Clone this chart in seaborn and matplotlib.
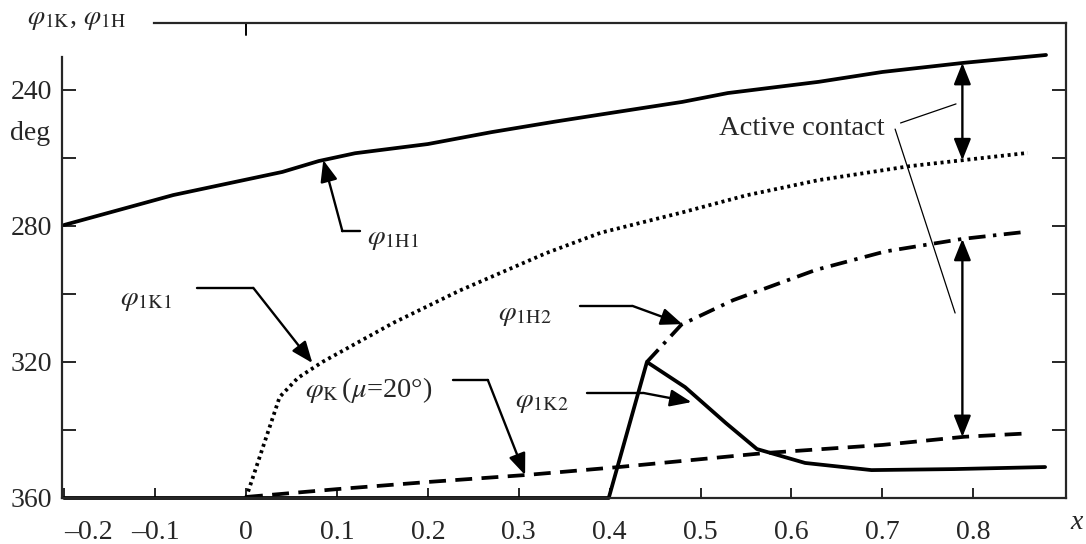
import numpy as np
import matplotlib
matplotlib.use('Agg')
import matplotlib.pyplot as plt
import matplotlib.transforms as mtransforms
import seaborn as sns

# curve data (x, angle in degrees)
h1_x = [-0.2, -0.08, 0.04, 0.08, 0.12, 0.2, 0.27, 0.34, 0.4, 0.48, 0.53, 0.63, 0.7, 0.79, 0.88]
h1_y = [279.7, 270.9, 264.1, 260.9, 258.6, 255.9, 252.4, 249.3, 246.8, 243.5, 240.9, 237.6, 234.7, 232.0, 229.7]

k1_x = [0.0, 0.037, 0.057, 0.084, 0.162, 0.235, 0.33, 0.39, 0.48, 0.55, 0.63, 0.73, 0.79, 0.86]
k1_y = [360, 330.3, 324.7, 320.0, 308.5, 299.0, 288.0, 282.0, 276.0, 271.0, 266.5, 262.4, 260.6, 258.5]

h2_x = [0.441, 0.479, 0.536, 0.627, 0.703, 0.788, 0.855]
h2_y = [320.0, 309.0, 301.8, 292.9, 287.5, 283.8, 281.8]

kmu_x = [0.0, 0.1, 0.2, 0.31, 0.41, 0.57, 0.70, 0.79, 0.86]
kmu_y = [359.7, 357.4, 355.3, 353.2, 350.9, 346.8, 344.4, 342.0, 341.0]

k2_x = [-0.2, 0.399, 0.441, 0.483, 0.528, 0.562, 0.615, 0.688, 0.779, 0.879]
k2_y = [360, 360, 320.0, 327.4, 338.0, 345.6, 349.7, 351.8, 351.5, 350.9]

x_ticks = [-0.2, -0.1, 0, 0.1, 0.2, 0.3, 0.4, 0.5, 0.6, 0.7, 0.8]
x_tick_labels = ['\u20130.2', '\u20130.1', '0', '0.1', '0.2', '0.3', '0.4', '0.5', '0.6', '0.7', '0.8']
y_ticks = [240, 260, 280, 300, 320, 340, 360]
y_tick_labels = ['240', '', '280', '', '320', '', '360']
contact_x = 0.788

sns.set_style('ticks')
plt.rcParams['font.family'] = ['Liberation Serif', 'DejaVu Serif']
plt.rcParams['mathtext.fontset'] = 'stix'

fig = plt.figure(figsize=(10.86, 5.44), dpi=100)
ax = fig.add_axes([0.0571, 0.0846, 0.9245, 0.8731])

lw = 2.7
sns.lineplot(x=h1_x, y=h1_y, ax=ax, color='black', lw=lw, sort=False, clip_on=False)
sns.lineplot(x=k1_x, y=k1_y, ax=ax, color='black', lw=lw, sort=False, linestyle=(0, (0.8, 1.0)), clip_on=False)
sns.lineplot(x=h2_x, y=h2_y, ax=ax, color='black', lw=lw, sort=False, linestyle=(0, (4.5, 2, 0.9, 2)), clip_on=False)
sns.lineplot(x=kmu_x, y=kmu_y, ax=ax, color='black', lw=lw, sort=False, linestyle=(0, (4.5, 2.5)), clip_on=False)
sns.lineplot(x=k2_x, y=k2_y, ax=ax, color='black', lw=lw, sort=False, clip_on=False)

ax.set_xlim(-0.2024, 0.902)
ax.set_ylim(360, 220.3)

# axis frame
for s in ax.spines.values():
    s.set_linewidth(1.6)
ax.spines['left'].set_bounds(230.3, 360)
ax.spines['top'].set_bounds(-0.101, 0.902)

ax.set_xticks(x_ticks)
ax.set_xticklabels(x_tick_labels)
ax.set_yticks(y_ticks)
ax.set_yticklabels(y_tick_labels)
ax.tick_params(axis='x', direction='in', length=7, width=1.4, labelsize=20, pad=16)
ax.tick_params(axis='y', direction='in', length=10, width=1.4, labelsize=20, pad=7,
               right=True)
ax.xaxis.set_ticks_position('bottom')

# x tick labels shift for the first one
lbl = ax.get_xticklabels()[0]
lbl.set_transform(lbl.get_transform() + mtransforms.ScaledTranslation(24 / 100, 0, fig.dpi_scale_trans))

# single top tick at x = 0
ax.plot([0, 0], [220.3, 223.8], color='black', lw=1.4, clip_on=False)

# labels
fs = 20.5
fig.text(0.0249, 0.965, r'$\varphi_{\mathrm{1K}}$, $\varphi_{\mathrm{1H}}$', fontsize=20, va='center')
fig.text(0.0276, 0.7555, 'deg', fontsize=20, ha='center', va='center')
fig.text(0.9917, 0.040, 'x', fontsize=20, style='italic', ha='center', va='center')

arrow = dict(arrowstyle='-|>,head_length=0.65,head_width=0.26', color='black', lw=1.7,
             mutation_scale=20, shrinkA=0, shrinkB=0)
dbl = dict(arrowstyle='<|-|>,head_length=0.65,head_width=0.26', color='black', lw=1.7,
           mutation_scale=20, shrinkA=0, shrinkB=0)


def leader(label, text_pos, bend_from, bend_to, tip):
    ax.text(text_pos[0], text_pos[1], label, fontsize=fs, ha='left', va='center')
    ax.plot([bend_from[0], bend_to[0]], [bend_from[1], bend_to[1]], color='black', lw=1.7)
    ax.annotate('', xy=tip, xytext=bend_to, arrowprops=arrow)


leader(r'$\varphi_{\mathrm{1H1}}$', (0.133, 284.1), (0.125, 281.5), (0.106, 281.5),
       (0.085, np.interp(0.085, h1_x, h1_y)))
leader(r'$\varphi_{\mathrm{1K1}}$', (-0.139, 301.8), (-0.054, 298.2), (0.008, 298.2),
       (0.073, 320.3))
leader(r'$\varphi_{\mathrm{K}}\,$($\mu$=20°)', (0.065, 328.2), (0.228, 325.3), (0.266, 325.3),
       (0.307, np.interp(0.307, kmu_x, kmu_y)))
leader(r'$\varphi_{\mathrm{1H2}}$', (0.277, 306.2), (0.367, 303.5), (0.425, 303.5),
       (0.48, np.interp(0.48, h2_x, h2_y)))
leader(r'$\varphi_{\mathrm{1K2}}$', (0.296, 331.8), (0.375, 329.1), (0.437, 329.1),
       (0.49, 331.8))

# active contact
ax.text(0.52, 251.2, 'Active contact', fontsize=fs, ha='left', va='center')
ax.plot([0.72, 0.781], [249.7, 244.1], color='black', lw=0.9)
ax.plot([0.714, 0.780], [251.5, 305.6], color='black', lw=0.9)
ax.annotate('', xy=(contact_x, np.interp(contact_x, h1_x, h1_y)),
            xytext=(contact_x, np.interp(contact_x, k1_x, k1_y)), arrowprops=dbl)
ax.annotate('', xy=(contact_x, np.interp(contact_x, h2_x, h2_y)),
            xytext=(contact_x, np.interp(contact_x, kmu_x, kmu_y)), arrowprops=dbl)

plt.savefig('out.png', dpi=100)
